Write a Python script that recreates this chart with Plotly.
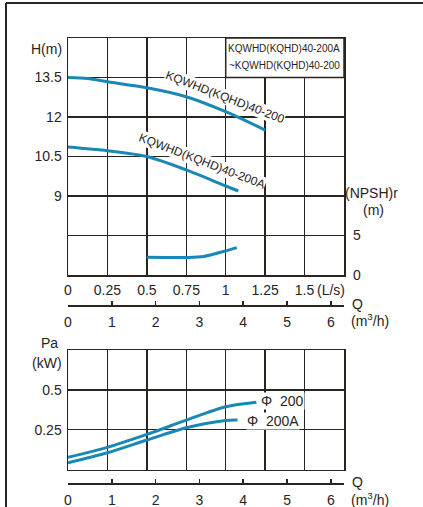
import plotly.graph_objects as go

# ---------------- data ----------------
# Upper chart: head curves (Q in L/s, H in m)
q_200 = [0, 0.125, 0.25, 0.5, 0.75, 1.0, 1.25]
h_200 = [13.5, 13.46, 13.34, 13.11, 12.77, 12.2, 11.5]
q_200a = [0, 0.25, 0.5, 0.75, 1.0, 1.08]
h_200a = [10.86, 10.72, 10.5, 9.99, 9.38, 9.19]
# NPSHr curve (Q in L/s, NPSHr in m)
q_npsh = [0.5, 0.75, 0.86, 1.0, 1.07]
npsh = [2.24, 2.22, 2.34, 3.05, 3.46]
# Lower chart: shaft power (Q in m3/h, Pa in kW)
q_p200 = [0, 0.9, 1.8, 2.7, 3.6, 4.3]
pa_200 = [0.076, 0.139, 0.22, 0.31, 0.394, 0.422]
q_p200a = [0, 0.9, 1.8, 2.7, 3.6, 3.87]
pa_200a = [0.042, 0.105, 0.185, 0.262, 0.308, 0.31]

# tick definitions
ls_ticks = [0, 0.25, 0.5, 0.75, 1.0, 1.25, 1.5, 1.75]
ls_text = ["0", "0.25", "0.5", "0.75", "1", "1.25", "1.5", " "]
h_ticks = [6, 7.5, 9, 10.5, 12, 13.5, 15]
h_text = [" ", " ", "9", "10.5", "12", "13.5", " "]
npsh_ticks = [0, 5]
m3h_ticks = [0, 1, 2, 3, 4, 5, 6]
pa_ticks = [0, 0.25, 0.5, 0.75]
pa_text = [" ", "0.25", "0.5", " "]
grid_m3h = [0, 0.9, 1.8, 2.7, 3.6, 4.5, 5.4, 6.3]

LS_TO_M3H = 3.6
W, H = 423, 507
INK = "#2a2421"
BLUE = "#1a88b4"
FONT = "Liberation Sans, Arial, sans-serif"


def px(x):
    return x / W


def py(y):
    return 1 - y / H


xdom = [px(68), px(344)]
up_dom = [py(275), py(38)]
lo_dom = [py(469.5), py(350)]

fig = go.Figure()
line = dict(color=BLUE, width=3, shape="spline", smoothing=0.8)
fig.add_trace(go.Scatter(x=q_200, y=h_200, mode="lines", line=line, xaxis="x", yaxis="y", hoverinfo="skip"))
fig.add_trace(go.Scatter(x=q_200a, y=h_200a, mode="lines", line=line, xaxis="x", yaxis="y", hoverinfo="skip"))
fig.add_trace(go.Scatter(x=[q * LS_TO_M3H for q in q_npsh], y=npsh, mode="lines", line=line,
                         xaxis="x3", yaxis="y2", hoverinfo="skip"))
fig.add_trace(go.Scatter(x=q_p200, y=pa_200, mode="lines", line=line, xaxis="x4", yaxis="y3", hoverinfo="skip"))
fig.add_trace(go.Scatter(x=q_p200a, y=pa_200a, mode="lines", line=line, xaxis="x5", yaxis="y3", hoverinfo="skip"))

tickfont = dict(family=FONT, size=14, color=INK)
gridax = dict(showgrid=True, gridcolor=INK, gridwidth=1.5, zeroline=False,
              showline=True, linecolor=INK, linewidth=1.5, mirror=True,
              ticks="", tickfont=tickfont, fixedrange=True, automargin=False)
freeax = dict(anchor="free", range=[0, 6.3], tickmode="array", tickvals=m3h_ticks,
              showgrid=False, zeroline=False, showline=True, linecolor=INK, linewidth=1.5,
              ticks="inside", ticklen=4, tickwidth=1.5, tickcolor=INK, tickfont=tickfont,
              fixedrange=True, automargin=False, ticklabelstandoff=4)

fig.update_layout(
    template="none",
    width=W, height=H, margin=dict(l=0, r=0, t=0, b=0, autoexpand=False),
    paper_bgcolor="white", plot_bgcolor="white", showlegend=False,
    xaxis=dict(gridax, domain=xdom, range=[0, 1.75], tickmode="array",
               tickvals=ls_ticks, ticktext=ls_text, anchor="y", ticklabelstandoff=2),
    yaxis=dict(gridax, domain=up_dom, range=[6, 15], tickmode="array",
               tickvals=h_ticks, ticktext=h_text, anchor="x", ticklabelstandoff=2),
    yaxis2=dict(overlaying="y", side="right", anchor="x", range=[0, 30], tickmode="array",
                tickvals=npsh_ticks, showgrid=False, zeroline=False, showline=False,
                ticks="", tickfont=tickfont, ticklabelstandoff=8, fixedrange=True,
                automargin=False),
    xaxis3=dict(freeax, overlaying="x", position=py(305)),
    xaxis4=dict(gridax, domain=xdom, range=[0, 6.3], tickmode="array", tickvals=grid_m3h,
                showticklabels=False, anchor="y3"),
    yaxis3=dict(gridax, domain=lo_dom, range=[0, 0.75], tickmode="array",
                tickvals=pa_ticks, ticktext=pa_text, anchor="x4", ticklabelstandoff=2),
    xaxis5=dict(freeax, overlaying="x4", position=py(483)),
)

# outer frame lines
fig.add_shape(type="line", xref="paper", yref="paper", x0=px(6), x1=px(6), y0=0, y1=py(3),
              line=dict(color=INK, width=2))
fig.add_shape(type="line", xref="paper", yref="paper", x0=px(6), x1=1, y0=py(3), y1=py(3),
              line=dict(color=INK, width=2))
# model box in top-right cell
fig.add_shape(type="rect", xref="x", yref="y", x0=1.0, x1=1.75, y0=13.5, y1=15,
              fillcolor="white", line=dict(color=INK, width=1.5), layer="above")


def ann(text, x, y, size=14, xanchor="center", **kw):
    fig.add_annotation(text=text, x=px(x), y=py(y), xref="paper", yref="paper",
                       showarrow=False, xanchor=xanchor, yanchor="middle",
                       font=dict(family=FONT, size=size, color=INK), **kw)


ann("KQWHD(KQHD)40-200A", 284, 48, size=10)
ann("~KQWHD(KQHD)40-200", 284, 65, size=10)
ann("H(m)", 46, 49)
ann("(NPSH)r", 371, 193)
ann("(m)", 373, 210)
ann("(L/s)", 331, 290)
ann("Q", 357, 304)
ann("(m<sup>3</sup>/h)", 370, 320)
ann("Pa", 49, 343)
ann("(kW)", 47, 363)
ann("Q", 357, 482)
ann("(m<sup>3</sup>/h)", 370, 499)
ann("KQWHD(KQHD)40-200", 225, 97, size=12, textangle=21, bgcolor="white", borderpad=0)
ann("KQWHD(KQHD)40-200A", 202, 161, size=12, textangle=21, bgcolor="white", borderpad=0)
ann("Φ  200", 282, 401, bgcolor="white", borderpad=0)
ann("Φ  200A", 273, 421, bgcolor="white", borderpad=0)

fig.write_html("out.html", config={"displayModeBar": False, "staticPlot": True},
               post_script="document.body.style.margin='0';")
